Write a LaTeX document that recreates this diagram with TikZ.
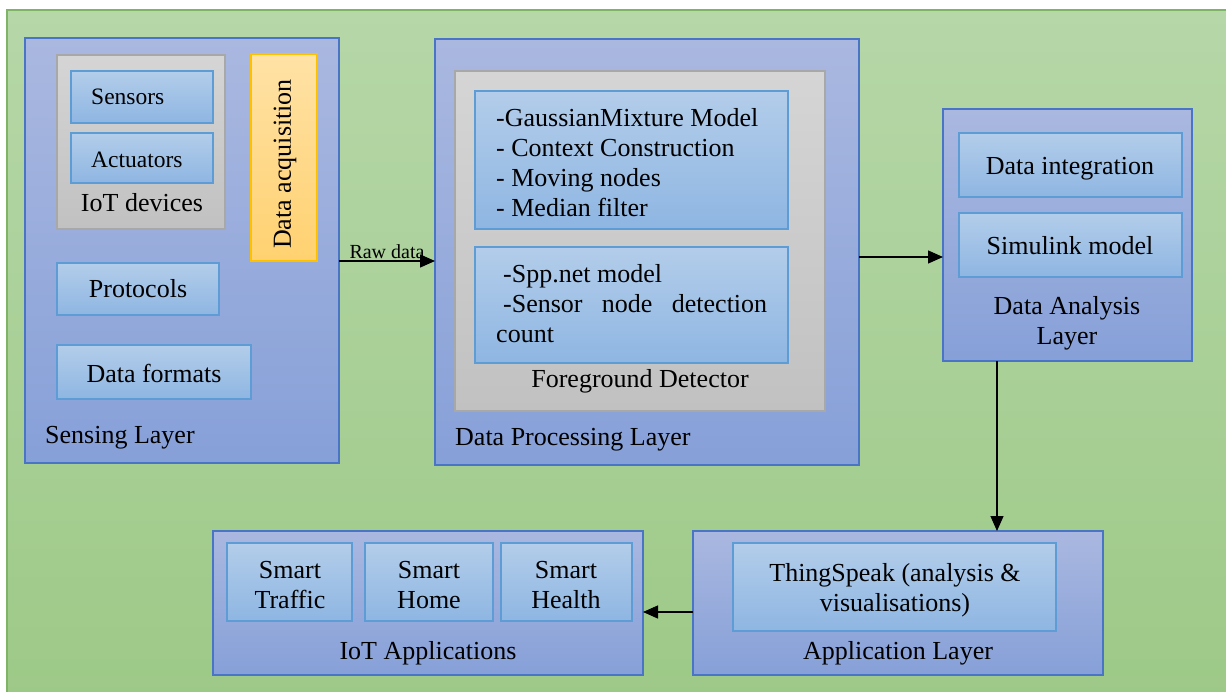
\documentclass[tikz,border=0pt]{standalone}
\usepackage{fontspec}
\setmainfont{Liberation Serif}
\usetikzlibrary{arrows.meta}
\definecolor{bgT}{HTML}{B6D7A8}
\definecolor{bgB}{HTML}{9DC987}
\definecolor{bgD}{HTML}{7FB466}
\definecolor{layT}{HTML}{AAB8E0}
\definecolor{layB}{HTML}{86A0D8}
\definecolor{layD}{HTML}{4A74C6}
\definecolor{inT}{HTML}{B3CDEA}
\definecolor{inB}{HTML}{8EB6E2}
\definecolor{inD}{HTML}{5E9CD6}
\definecolor{grT}{HTML}{D5D5D5}
\definecolor{grB}{HTML}{C1C1C1}
\definecolor{grD}{HTML}{A8A8A8}
\definecolor{orT}{HTML}{FFE2A6}
\definecolor{orB}{HTML}{FFD170}
\definecolor{orD}{HTML}{FFC000}
\begin{document}
\begin{tikzpicture}[x=1pt,y=-1pt,
  box/.style={anchor=north west, inner sep=0pt, outer sep=0pt, line width=1.3pt},
  layer/.style={box, draw=layD, top color=layT, bottom color=layB},
  inner/.style={box, draw=inD, top color=inT, bottom color=inB},
  grey/.style={box, draw=grD, top color=grT, bottom color=grB},
  orange/.style={box, draw=orD, top color=orT, bottom color=orB},
  txt/.style={inner sep=0pt, font=\fontsize{26}{30}\selectfont},
  stxt/.style={inner sep=0pt, font=\fontsize{23.5}{28}\selectfont},
  arr/.style={line width=1.3pt, -{Triangle[length=15pt,width=13pt]}}]
\useasboundingbox (0,0) rectangle (1226,692);
\begin{scope}
\clip (0,0) rectangle (1226,692);
\node[box, draw=bgD, top color=bgT, bottom color=bgB, line width=1.5pt,
  minimum width=1230pt, minimum height=690pt] (bg) at (7,10) {};
\end{scope}

% Sensing layer
\node[layer, minimum width=314pt, minimum height=425pt] (sense) at (25,38) {};
\node[grey, minimum width=168pt, minimum height=174pt] (iotdev) at (57,55) {};
\node[inner, minimum width=142pt, minimum height=52pt] (sensors) at (71,71) {};
\node[inner, minimum width=142pt, minimum height=50pt] (act) at (71,133) {};
\node[orange, minimum width=66pt, minimum height=207pt] (acq) at (251,54) {};
\node[inner, minimum width=162pt, minimum height=52pt] (proto) at (57,263) {};
\node[inner, minimum width=194pt, minimum height=54pt] (fmt) at (57,345) {};

\node[stxt, anchor=base west] (tsens) at (91,105) {Sensors};
\node[stxt, anchor=base west] (tact) at (91,168) {Actuators};
\node[txt, anchor=base] (tiot) at (142,212) {IoT devices};
\node[txt, rotate=90] (tacq) at (285,164) {Data acquisition};
\node[txt, anchor=base] (tproto) at (138,298) {Protocols};
\node[txt, anchor=base] (tfmt) at (154,382) {Data formats};
\node[txt, anchor=base west] (tsl) at (45,443) {Sensing Layer};

% Data processing layer
\node[layer, minimum width=424pt, minimum height=426pt] (proc) at (435,39) {};
\node[grey, minimum width=370pt, minimum height=340pt] (fg) at (455,71) {};
\node[inner, minimum width=313pt, minimum height=138pt] (gmm) at (475,91) {};
\node[inner, minimum width=313pt, minimum height=116pt] (spp) at (475,247) {};

\node[txt, anchor=base west, align=left] (tgmm) at (496,217)
  {-GaussianMixture Model\\- Context Construction\\- Moving nodes\\- Median filter};
\node[txt, anchor=base west, align=left] (tspp) at (496,343)
  {\hspace*{7pt}-Spp.net model\\\hspace*{7pt}\makebox[264pt][s]{-Sensor node detection}\\count};
\node[txt, anchor=base] (tfg) at (640,388) {Foreground Detector};
\node[txt, anchor=base west] (tpl) at (455,445) {Data Processing Layer};

% Data analysis layer
\node[layer, minimum width=249pt, minimum height=252pt] (ana) at (943,109) {};
\node[inner, minimum width=223pt, minimum height=64pt] (integ) at (959,133) {};
\node[inner, minimum width=223pt, minimum height=64pt] (sim) at (959,213) {};
\node[txt, anchor=base] (tinteg) at (1070,175) {Data integration};
\node[txt, anchor=base] (tsim) at (1070,255) {Simulink model};
\node[txt, anchor=base, align=center] (tana) at (1067,345) {Data Analysis\\Layer};

% Application layer
\node[layer, minimum width=410pt, minimum height=144pt] (app) at (693,531) {};
\node[inner, minimum width=323pt, minimum height=88pt] (ts) at (733,543) {};
\node[txt, anchor=base, align=center] (tts) at (895,611) {ThingSpeak (analysis \&\\visualisations)};
\node[txt, anchor=base] (tapp) at (898,659) {Application Layer};

% IoT applications
\node[layer, minimum width=430pt, minimum height=144pt] (iot) at (213,531) {};
\node[inner, minimum width=125pt, minimum height=78pt] (traffic) at (227,543) {};
\node[inner, minimum width=128pt, minimum height=78pt] (home) at (365,543) {};
\node[inner, minimum width=131pt, minimum height=78pt] (health) at (501,543) {};
\node[txt, anchor=base, align=center] (ttraffic) at (290,608) {Smart\\Traffic};
\node[txt, anchor=base, align=center] (thome) at (429,608) {Smart\\Home};
\node[txt, anchor=base, align=center] (thealth) at (566,608) {Smart\\Health};
\node[txt, anchor=base] (tiota) at (428,659) {IoT Applications};

% connectors
\coordinate (pa) at (0,257);
\coordinate (ad) at (997,0);
\coordinate (ai) at (0,612);
\draw[arr] (sense.east |- acq.south) -- node[above=2pt, inner sep=0pt, font=\fontsize{20}{22}\selectfont] (traw) {Raw data} (proc.west |- acq.south);
\draw[arr] (proc.east |- pa) -- (ana.west |- pa);
\draw[arr] (ana.south -| ad) -- (app.north -| ad);
\draw[arr] (app.west |- ai) -- (iot.east |- ai);
\end{tikzpicture}
\end{document}
